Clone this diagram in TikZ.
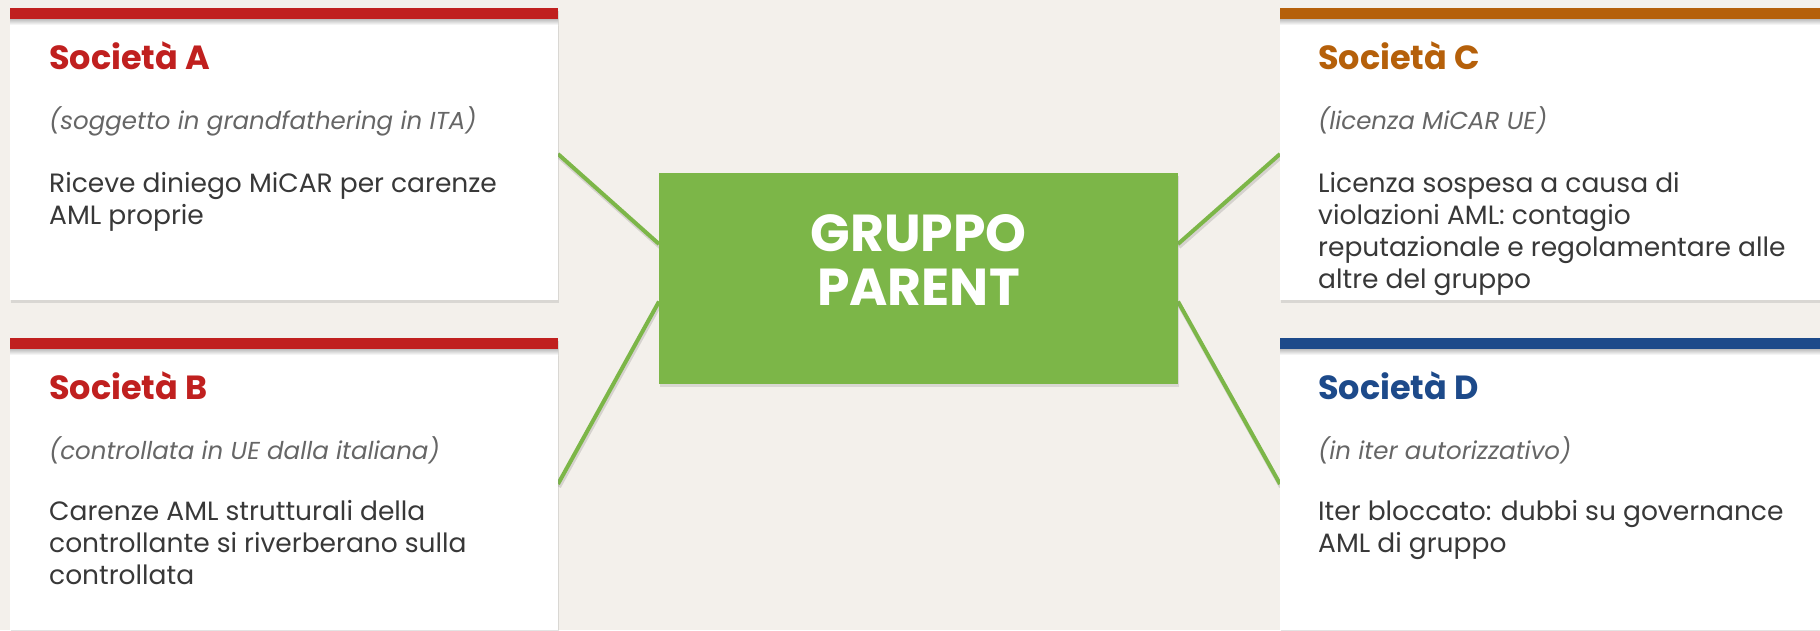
\documentclass[tikz,border=0pt]{standalone}
\usepackage{fontspec}
\setmainfont{Poppins}
\usetikzlibrary{shadows,calc}
\definecolor{bg}{HTML}{F3F0EB}
\definecolor{cred}{HTML}{C0201F}
\definecolor{corange}{HTML}{B5600A}
\definecolor{cblue}{HTML}{1D4A8A}
\definecolor{cgreen}{HTML}{7CB648}
\definecolor{subgray}{HTML}{666666}
\definecolor{bodygray}{HTML}{383838}
\begin{document}
\begin{tikzpicture}[x=1pt,y=-1pt,
  card/.style={fill=white, minimum width=548pt, minimum height=292pt, inner sep=0pt, outer sep=0pt, anchor=north west,
    drop shadow={shadow xshift=1pt, shadow yshift=-3pt, opacity=0.22}},
  gbox/.style={fill=cgreen, minimum width=519pt, minimum height=211pt, inner sep=0pt, outer sep=0pt,
    drop shadow={shadow xshift=1pt, shadow yshift=-3pt, opacity=0.22}},
  gtext/.style={anchor=base, align=center, text=white, inner sep=0pt, font=\bfseries\fontsize{52}{54}\selectfont},
  ttl/.style={anchor=base west, inner sep=0pt, font=\bfseries\fontsize{33.5}{38}\selectfont},
  subt/.style={anchor=base west, inner sep=0pt, text=subgray, font=\itshape\fontsize{24.5}{28}\selectfont},
  bodyt/.style={anchor=base west, align=left, inner sep=0pt, text=bodygray, font=\fontsize{26.5}{32}\selectfont},
  conn/.style={draw=cgreen, line width=4pt},
  connshadow/.style={draw=black, opacity=0.12, line width=4pt, transform canvas={xshift=1pt, yshift=-3pt}}
]
\useasboundingbox (0,0) rectangle (1820,630);
\clip (0,0) rectangle (1820,630);
\fill[bg] (0,0) rectangle (1820,630);

% anchor points
\path (10,8) coordinate (pA) (10,338) coordinate (pB) (1280,8) coordinate (pC) (1280,338) coordinate (pD);
\path (918.5,278.5) coordinate (pG);

% invisible placeholders so connectors can run node to node beneath the cards
\path (pA) node[anchor=north west, minimum width=548pt, minimum height=292pt, inner sep=0pt, outer sep=0pt] (A0) {};
\path (pB) node[anchor=north west, minimum width=548pt, minimum height=292pt, inner sep=0pt, outer sep=0pt] (B0) {};
\path (pC) node[anchor=north west, minimum width=548pt, minimum height=292pt, inner sep=0pt, outer sep=0pt] (C0) {};
\path (pD) node[anchor=north west, minimum width=548pt, minimum height=292pt, inner sep=0pt, outer sep=0pt] (D0) {};
\path (pG) node[minimum width=519pt, minimum height=211pt, inner sep=0pt, outer sep=0pt] (G0) {};

\draw[connshadow] (A0.east) -- ($(G0.west)+(0,-34.5)$);
\draw[connshadow] (B0.east) -- ($(G0.west)+(0,23)$);
\draw[connshadow] (C0.west) -- ($(G0.east)+(0,-34.5)$);
\draw[connshadow] (D0.west) -- ($(G0.east)+(0,23)$);
\draw[conn] (A0.east) -- ($(G0.west)+(0,-34.5)$);
\draw[conn] (B0.east) -- ($(G0.west)+(0,23)$);
\draw[conn] (C0.west) -- ($(G0.east)+(0,-34.5)$);
\draw[conn] (D0.west) -- ($(G0.east)+(0,23)$);

% cards
\node[card] (A) at (pA) {};
\node[card] (B) at (pB) {};
\node[card] (C) at (pC) {};
\node[card] (D) at (pD) {};

% top bars
\foreach \n/\c in {A/cred, B/cred, C/corange, D/cblue}{
  \shade[top color=black!30, bottom color=white] ($(\n.north west)+(0,10)$) rectangle ($(\n.north east)+(0,17)$);
  \fill[\c] (\n.north west) rectangle ($(\n.north east)+(0,10.5)$);
}

% green parent box
\node[gbox] (G) at (pG) {};
\node[gtext] (GT) at (918.5,305) {GRUPPO\\PARENT};

% texts A
\node[ttl, text=cred] (At) at ($(A.north west)+(39,61)$) {Società A};
\node[subt] (As) at ($(A.north west)+(39,121)$) {(soggetto in grandfathering in ITA)};
\node[bodyt] (Ab) at ($(A.north west)+(39,216)$) {Riceve diniego MiCAR per carenze\\AML proprie};

% texts B
\node[ttl, text=cred] (Bt) at ($(B.north west)+(39,61)$) {Società B};
\node[subt] (Bs) at ($(B.north west)+(39,121)$) {(controllata in UE dalla italiana)};
\node[bodyt] (Bb) at ($(B.north west)+(39,246)$) {Carenze AML strutturali della\\controllante si riverberano sulla\\controllata};

% texts C
\node[ttl, text=corange] (Ct) at ($(C.north west)+(38,61)$) {Società C};
\node[subt] (Cs) at ($(C.north west)+(38,121)$) {(licenza MiCAR UE)};
\node[bodyt] (Cb) at ($(C.north west)+(38,280)$) {Licenza sospesa a causa di\\violazioni AML: contagio\\reputazionale e regolamentare alle\\altre del gruppo};

% texts D
\node[ttl, text=cblue] (Dt) at ($(D.north west)+(38,61)$) {Società D};
\node[subt] (Ds) at ($(D.north west)+(38,121)$) {(in iter autorizzativo)};
\node[bodyt] (Db) at ($(D.north west)+(38,214)$) {Iter bloccato: dubbi su governance\\AML di gruppo};
\end{tikzpicture}
\end{document}
